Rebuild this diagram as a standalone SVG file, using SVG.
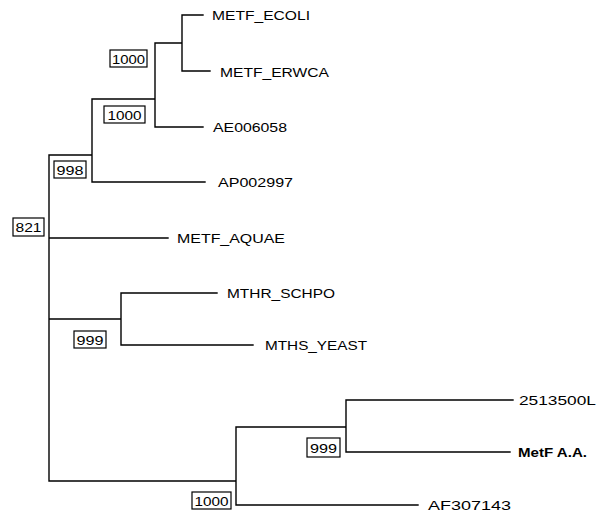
<svg xmlns="http://www.w3.org/2000/svg" width="597" height="514" viewBox="0 0 597 514">
<style>
.e{stroke:#000;stroke-width:1.4;fill:none;stroke-linecap:square}
.t{font-family:"Liberation Sans",Arial,sans-serif;font-size:13px;fill:#000}
.b{font-family:"Liberation Sans",Arial,sans-serif;font-size:13.5px;fill:#000;text-anchor:middle}
.bx{fill:#fff;stroke:#000;stroke-width:1.2}
.bold{font-weight:bold}
</style>
<rect width="597" height="514" fill="#fff"/>
<g id="connectors">
<path class="e" d="M49,155V481M49,155H92M92,99V182M92,99H155M155,43V127M155,43H182M182,15V71M182,15H203M182,71H210M155,127H203M92,182H205M49,238H168M49,319H121M121,293V345M121,293H217M121,345H253M49,481H236M236,427V505M236,427H346M346,400V452M346,400H513M346,452H510M236,505H418"/>
</g>
<g id="METF_ECOLI"><text class="t" x="212" y="20" textLength="98" lengthAdjust="spacingAndGlyphs">METF_ECOLI</text></g>
<g id="METF_ERWCA"><text class="t" x="220" y="77" textLength="109" lengthAdjust="spacingAndGlyphs">METF_ERWCA</text></g>
<g id="AE006058"><text class="t" x="213" y="132" textLength="74" lengthAdjust="spacingAndGlyphs">AE006058</text></g>
<g id="AP002997"><text class="t" x="218" y="187" textLength="75" lengthAdjust="spacingAndGlyphs">AP002997</text></g>
<g id="METF_AQUAE"><text class="t" x="177" y="243" textLength="108" lengthAdjust="spacingAndGlyphs">METF_AQUAE</text></g>
<g id="MTHR_SCHPO"><text class="t" x="227" y="298" textLength="108" lengthAdjust="spacingAndGlyphs">MTHR_SCHPO</text></g>
<g id="MTHS_YEAST"><text class="t" x="265" y="350" textLength="102" lengthAdjust="spacingAndGlyphs">MTHS_YEAST</text></g>
<g id="n2513500L"><text class="t" x="519" y="405" textLength="77" lengthAdjust="spacingAndGlyphs">2513500L</text></g>
<g id="MetF_AA"><text class="t bold" x="518" y="457" textLength="69" lengthAdjust="spacingAndGlyphs">MetF A.A.</text></g>
<g id="AF307143"><text class="t" x="428" y="510" textLength="83" lengthAdjust="spacingAndGlyphs">AF307143</text></g>
<g id="bs1"><rect class="bx" x="110" y="50" width="37" height="17"/><text class="b" x="128.5" y="63.5" textLength="33" lengthAdjust="spacingAndGlyphs">1000</text></g>
<g id="bs2"><rect class="bx" x="104" y="106" width="41" height="17"/><text class="b" x="124.5" y="119.5" textLength="34" lengthAdjust="spacingAndGlyphs">1000</text></g>
<g id="bs3"><rect class="bx" x="54" y="161" width="32" height="17"/><text class="b" x="70" y="174.5" textLength="27" lengthAdjust="spacingAndGlyphs">998</text></g>
<g id="bs4"><rect class="bx" x="13" y="218" width="31" height="18"/><text class="b" x="28.5" y="232" textLength="26" lengthAdjust="spacingAndGlyphs">821</text></g>
<g id="bs5"><rect class="bx" x="74" y="331" width="32" height="17"/><text class="b" x="90" y="344.5" textLength="27" lengthAdjust="spacingAndGlyphs">999</text></g>
<g id="bs6"><rect class="bx" x="307" y="438" width="33" height="19"/><text class="b" x="323.5" y="452.5" textLength="27" lengthAdjust="spacingAndGlyphs">999</text></g>
<g id="bs7"><rect class="bx" x="192" y="492" width="39" height="17"/><text class="b" x="211.5" y="505.5" textLength="34" lengthAdjust="spacingAndGlyphs">1000</text></g>
</svg>
